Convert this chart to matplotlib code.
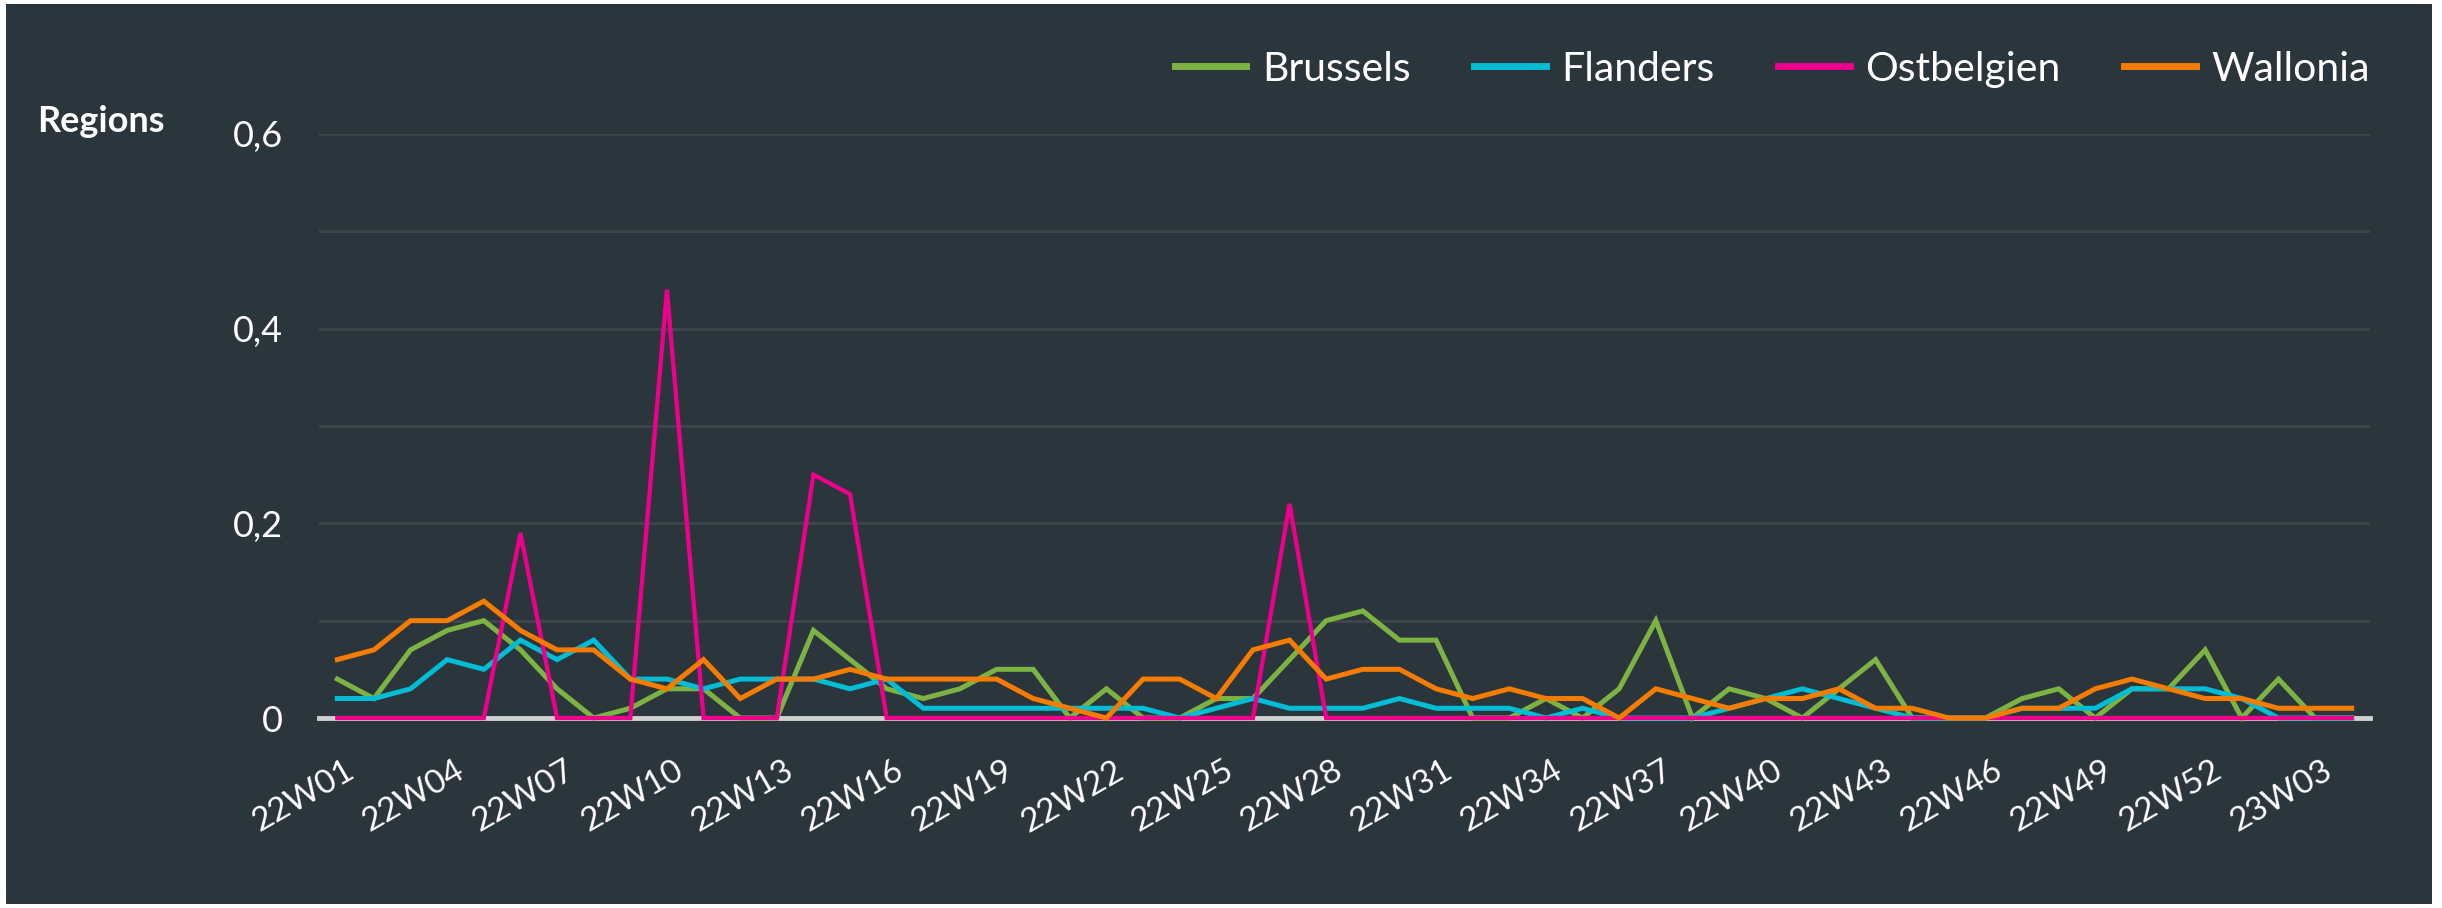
import matplotlib
matplotlib.use("Agg")
import matplotlib.pyplot as plt
import matplotlib.patches as mpatches
import matplotlib.transforms as mtransforms
from matplotlib.ticker import FuncFormatter, MultipleLocator

plt.rcParams['font.family'] = ['Lato', 'DejaVu Sans']

# week labels 22W01 .. 22W52, 23W01 .. 23W04
weeks = ["22W%02d" % w for w in range(1, 53)] + ["23W%02d" % w for w in range(1, 5)]

brussels = [0.04, 0.02, 0.07, 0.09, 0.10, 0.07, 0.03, 0.00, 0.01, 0.03,
            0.03, 0.00, 0.00, 0.09, 0.06, 0.03, 0.02, 0.03, 0.05, 0.05,
            0.00, 0.03, 0.00, 0.00, 0.02, 0.02, 0.06, 0.10, 0.11, 0.08,
            0.08, 0.00, 0.00, 0.02, 0.00, 0.03, 0.10, 0.00, 0.03, 0.02,
            0.00, 0.03, 0.06, 0.00, 0.00, 0.00, 0.02, 0.03, 0.00, 0.03,
            0.03, 0.07, 0.00, 0.04, 0.00, 0.00]
flanders = [0.02, 0.02, 0.03, 0.06, 0.05, 0.08, 0.06, 0.08, 0.04, 0.04,
            0.03, 0.04, 0.04, 0.04, 0.03, 0.04, 0.01, 0.01, 0.01, 0.01,
            0.01, 0.01, 0.01, 0.00, 0.01, 0.02, 0.01, 0.01, 0.01, 0.02,
            0.01, 0.01, 0.01, 0.00, 0.01, 0.00, 0.00, 0.00, 0.01, 0.02,
            0.03, 0.02, 0.01, 0.00, 0.00, 0.00, 0.01, 0.01, 0.01, 0.03,
            0.03, 0.03, 0.02, 0.00, 0.00, 0.00]
ostbelgien = [0.00, 0.00, 0.00, 0.00, 0.00, 0.19, 0.00, 0.00, 0.00, 0.44,
              0.00, 0.00, 0.00, 0.25, 0.23, 0.00, 0.00, 0.00, 0.00, 0.00,
              0.00, 0.00, 0.00, 0.00, 0.00, 0.00, 0.22, 0.00, 0.00, 0.00,
              0.00, 0.00, 0.00, 0.00, 0.00, 0.00, 0.00, 0.00, 0.00, 0.00,
              0.00, 0.00, 0.00, 0.00, 0.00, 0.00, 0.00, 0.00, 0.00, 0.00,
              0.00, 0.00, 0.00, 0.00, 0.00, 0.00]
wallonia = [0.06, 0.07, 0.10, 0.10, 0.12, 0.09, 0.07, 0.07, 0.04, 0.03,
            0.06, 0.02, 0.04, 0.04, 0.05, 0.04, 0.04, 0.04, 0.04, 0.02,
            0.01, 0.00, 0.04, 0.04, 0.02, 0.07, 0.08, 0.04, 0.05, 0.05,
            0.03, 0.02, 0.03, 0.02, 0.02, 0.00, 0.03, 0.02, 0.01, 0.02,
            0.02, 0.03, 0.01, 0.01, 0.00, 0.00, 0.01, 0.01, 0.03, 0.04,
            0.03, 0.02, 0.02, 0.01, 0.01, 0.01]

series = [("Brussels", brussels, "#7cb342", 3.6),
          ("Flanders", flanders, "#00bcd4", 3.6),
          ("Ostbelgien", ostbelgien, "#ec008c", 3.1),
          ("Wallonia", wallonia, "#f57c00", 3.6)]

bg = "#2b353c"
fg = "white"

fig = plt.figure(figsize=(24.42, 9.08), dpi=100)
fig.patch.set_facecolor("white")
fig.add_artist(mpatches.Rectangle((6 / 2442, 4 / 908), 2426 / 2442, 900 / 908,
                                  transform=fig.transFigure, facecolor=bg,
                                  edgecolor="none", zorder=0))

ax = fig.add_axes([319 / 2442, 1 - 718 / 908, 2051 / 2442, 584 / 908])
ax.set_facecolor(bg)
ax.patch.set_alpha(0)
for s in ax.spines.values():
    s.set_visible(False)

x = list(range(len(weeks)))
for i, (name, vals, col, lw) in enumerate(series):
    ax.plot(x, vals, color=col, lw=lw, label=name, clip_on=False, zorder=3 + i,
            solid_joinstyle="miter")

ax.set_xlim(-0.5, len(weeks) - 0.5)
ax.set_ylim(0, 0.6)

# grid every 0.1, labels every 0.2
ax.yaxis.set_major_locator(MultipleLocator(0.2))
ax.yaxis.set_minor_locator(MultipleLocator(0.1))
ax.grid(True, axis="y", which="both", color="#3e464c", lw=2.0, zorder=1)
ax.axhline(0, color="#d0d0d0", lw=3.5, zorder=2, clip_on=False)
ax.yaxis.set_major_formatter(FuncFormatter(lambda v, p: ("%g" % round(v, 1)).replace(".", ",")))
ax.tick_params(axis="y", which="both", length=0, labelsize=26, labelcolor=fg, pad=26)

ax.set_xticks(x[::3])
ax.set_xticklabels(weeks[::3])
ax.tick_params(axis="x", length=0, labelsize=24, labelcolor=fg, pad=27)
shift = mtransforms.ScaledTranslation(7 / 100, 0, fig.dpi_scale_trans)
for lab in ax.get_xticklabels():
    lab.set_rotation(30)
    lab.set_ha("right")
    lab.set_va("top")
    lab.set_rotation_mode("anchor")
    lab.set_transform(lab.get_transform() + shift)

fig.text(37 / 2442, 1 - 122 / 908, "Regions", color=fg, fontsize=26,
         fontweight="bold", ha="left", va="center")

leg = ax.legend(loc="center right", bbox_to_anchor=(1.0, 1.111), ncol=4,
                frameon=False, fontsize=29.5, handlelength=1.75, handletextpad=0.38,
                columnspacing=1.55, borderaxespad=0, borderpad=0)
for t in leg.get_texts():
    t.set_color(fg)
for h in leg.get_lines():
    h.set_linewidth(5)

fig.savefig("out.png", dpi=100, facecolor=fig.get_facecolor())
